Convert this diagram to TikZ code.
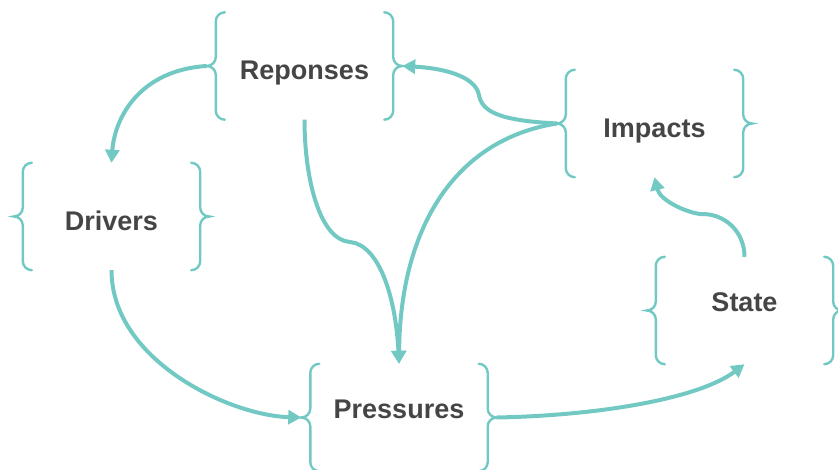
\documentclass[tikz,border=0pt]{standalone}
\usepackage{fontspec}
\setmainfont{Liberation Sans}
\usetikzlibrary{arrows.meta}
\definecolor{dteal}{HTML}{72C9C3}
\definecolor{labelgray}{HTML}{454545}

% curly braces on both sides of a box node
\newcommand\bracesof[1]{%
  \draw[brace] ([xshift=9pt]#1.north west) arc[start angle=90,end angle=180,radius=9pt]
    -- ([yshift=9pt]#1.west) arc[start angle=0,end angle=-90,radius=9pt]
    arc[start angle=90,end angle=0,radius=9pt]
    -- ([yshift=9pt]#1.south west) arc[start angle=180,end angle=270,radius=9pt];
  \draw[brace] ([xshift=-9pt]#1.north east) arc[start angle=90,end angle=0,radius=9pt]
    -- ([yshift=9pt]#1.east) arc[start angle=180,end angle=270,radius=9pt]
    arc[start angle=90,end angle=180,radius=9pt]
    -- ([yshift=9pt]#1.south east) arc[start angle=0,end angle=-90,radius=9pt];
}

\begin{document}
\begin{tikzpicture}[x=1pt,y=1pt,
  box/.style={minimum width=177pt,minimum height=107pt,inner sep=0pt,
    font=\bfseries\fontsize{27}{30}\selectfont,text=labelgray,
    text height=28pt,text depth=0pt},
  low/.style={text height=2pt},
  brace/.style={draw=dteal,line width=2.4pt,line cap=round},
  flow/.style={draw=dteal,line width=4pt,-{Triangle[length=13pt,width=14pt]}}]

\useasboundingbox (0,0) rectangle (838,469);

% boxes
\node[box] (rep) at (304.5,403)   {Reponses};
\node[box] (imp) at (654.5,345.5) {Impacts};
\node[box] (drv) at (111.5,252.5) {Drivers};
\node[box,low] (pre) at (399,51.5)  {Pressures};
\node[box,low] (sta) at (744.5,158.5) {State};

\foreach \n in {rep,imp,drv,pre,sta} {\bracesof{\n}}

% bends of the S-shaped connectors
\coordinate (s2i) at (700,255);
\coordinate (i2r) at (479,374);
\coordinate (r2p) at (350,227);

% connectors
\draw[flow] ([xshift=-9pt]rep.west) .. controls +(-67,-4) and +(3,45) .. (drv.north);
\draw[flow] (drv.south) .. controls +(0,-90) and +(-72,2) .. ([xshift=-9pt]pre.west);
\draw[flow] ([xshift=9pt]pre.east) .. controls +(104,2) and +(-45,-34) .. (sta.south);
\draw[flow] (sta.north) .. controls +(0,25) and +(25,1) .. (s2i)
  .. controls +(-15,2) and +(5.5,-23) .. (imp.south);
\draw[flow] ([xshift=-9pt]imp.west) .. controls +(-57,3) and +(3,-17) .. (i2r)
  .. controls +(-4,20) and +(38,-2) .. ([xshift=9pt]rep.east);
\draw[flow] ([xshift=-9pt]imp.west) .. controls +(-107,-17) and +(1,129) .. (pre.north);
\draw[flow] (rep.south) .. controls +(0,-60) and +(-30,2) .. (r2p)
  .. controls +(30,-3) and +(-3,64) .. (pre.north);
\end{tikzpicture}
\end{document}
